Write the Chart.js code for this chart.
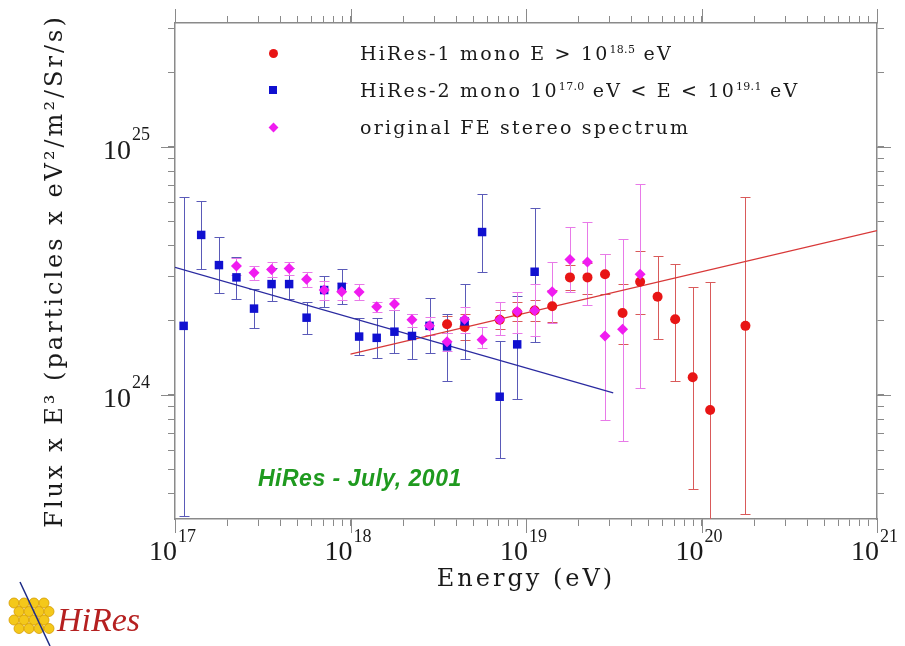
<!DOCTYPE html>
<html>
<head>
<meta charset="utf-8">
<title>HiRes spectrum - July 2001</title>
<script src="https://cdn.jsdelivr.net/npm/chart.js@4.4.1/dist/chart.umd.min.js"></script>
<style>
    html, body { margin: 0; padding: 0; background: #fff; }
    #wrap { position: relative; width: 905px; height: 646px; overflow: hidden; }
    #c { position: absolute; left: 0; top: 0; }
    .leg-text {
        position: absolute; left: 360px; height: 24px; line-height: 24px;
        font-family: 'DejaVu Serif', serif; font-size: 19px; letter-spacing: 2.2px;
        color: #1a1a1a; white-space: nowrap;
    }
    .leg-text sup { font-size: 11px; vertical-align: baseline; position: relative; top: -7px; letter-spacing: 0.3px; }
    .leg-mark { position: absolute; }
    #note {
        position: absolute; left: 258px; top: 465px; line-height: 26px;
        font-family: 'Liberation Sans', Arial, sans-serif; font-size: 23px;
        font-weight: bold; font-style: italic; letter-spacing: 0.5px;
        color: #1f9a1f; white-space: nowrap;
    }
    #logo { position: absolute; left: 0; top: 578px; }
</style>
</head>
<body>
<div id="wrap">
    <canvas id="c" width="905" height="646"></canvas>
    <div id="legend"></div>
    <div id="note">HiRes - July, 2001</div>
    <svg id="logo" width="150" height="68"></svg>
</div>
<script>
// Energy bins (eV) and flux x E^3 values
const hires1E  = [3.55e18, 4.47e18, 7.08e18, 8.91e18, 1.12e19, 1.41e19, 1.78e19, 2.24e19, 2.82e19, 3.55e19, 4.47e19, 5.62e19, 7.08e19, 8.91e19, 1.12e20, 1.78e20];
const hires1F  = [1.93e24, 1.88e24, 2.01e24, 2.15e24, 2.19e24, 2.28e24, 2.98e24, 2.98e24, 3.07e24, 2.14e24, 2.86e24, 2.49e24, 2.02e24, 1.18e24, 8.70e23, 1.90e24];
const hires1Hi = [2.08e24, 2.12e24, 2.20e24, 2.38e24, 2.42e24, 2.65e24, 3.34e24, 3.40e24, 3.70e24, 2.80e24, 3.82e24, 3.62e24, 3.37e24, 2.73e24, 2.85e24, 6.30e24];
const hires1Lo = [1.78e24, 1.67e24, 1.85e24, 1.98e24, 1.98e24, 1.97e24, 2.65e24, 2.55e24, 2.55e24, 1.61e24, 2.12e24, 1.68e24, 1.14e24, 4.18e23, 1.50e23, 3.31e23];

const hires2E  = [1.12e17, 1.41e17, 1.78e17, 2.24e17, 2.82e17, 3.55e17, 4.47e17, 5.62e17, 7.08e17, 8.91e17, 1.12e18, 1.41e18, 1.78e18, 2.24e18, 2.82e18, 3.55e18, 4.47e18, 5.62e18, 7.08e18, 8.91e18, 1.12e19];
const hires2F  = [1.90e24, 4.42e24, 3.34e24, 2.98e24, 2.23e24, 2.80e24, 2.80e24, 2.05e24, 2.65e24, 2.73e24, 1.72e24, 1.70e24, 1.80e24, 1.73e24, 1.90e24, 1.57e24, 1.98e24, 4.54e24, 9.84e23, 1.60e24, 3.14e24];
const hires2Hi = [6.27e24, 6.04e24, 4.35e24, 3.61e24, 2.67e24, 3.25e24, 3.25e24, 2.37e24, 3.02e24, 3.21e24, 2.05e24, 2.04e24, 2.20e24, 2.13e24, 2.45e24, 2.13e24, 2.79e24, 6.46e24, 1.65e24, 2.50e24, 5.66e24];
const hires2Lo = [3.25e23, 3.21e24, 2.57e24, 2.44e24, 1.86e24, 2.39e24, 2.44e24, 1.76e24, 2.27e24, 2.33e24, 1.45e24, 1.41e24, 1.48e24, 1.40e24, 1.47e24, 1.14e24, 1.40e24, 3.13e24, 5.59e23, 9.61e23, 1.64e24];

const stereoE  = [2.24e17, 2.82e17, 3.55e17, 4.47e17, 5.62e17, 7.08e17, 8.91e17, 1.12e18, 1.41e18, 1.78e18, 2.24e18, 2.82e18, 3.55e18, 4.47e18, 5.62e18, 7.08e18, 8.91e18, 1.12e19, 1.41e19, 1.78e19, 2.24e19, 2.82e19, 3.55e19, 4.47e19];
const stereoF  = [3.31e24, 3.11e24, 3.21e24, 3.24e24, 2.93e24, 2.65e24, 2.61e24, 2.60e24, 2.27e24, 2.33e24, 2.01e24, 1.90e24, 1.64e24, 2.02e24, 1.67e24, 2.01e24, 2.17e24, 2.19e24, 2.61e24, 3.52e24, 3.44e24, 1.73e24, 1.84e24, 3.07e24];
const stereoHi = [3.57e24, 3.31e24, 3.44e24, 3.44e24, 3.13e24, 2.88e24, 2.83e24, 2.80e24, 2.38e24, 2.45e24, 2.13e24, 2.07e24, 1.78e24, 2.27e24, 1.88e24, 2.38e24, 2.61e24, 2.80e24, 3.43e24, 4.77e24, 5.00e24, 3.70e24, 4.26e24, 7.09e24];
const stereoLo = [3.05e24, 2.91e24, 2.99e24, 3.05e24, 2.73e24, 2.42e24, 2.42e24, 2.42e24, 2.17e24, 2.20e24, 1.88e24, 1.75e24, 1.50e24, 1.77e24, 1.54e24, 1.75e24, 1.77e24, 1.73e24, 1.96e24, 2.61e24, 2.31e24, 7.93e23, 6.53e23, 1.07e24];

// straight fits (end points)
const hires2FitE = [1e17, 3.14e19];
const hires2FitF = [3.27e24, 1.02e24];
const hires1FitE = [1e18, 1e21];
const hires1FitF = [1.46e24, 4.60e24];

// axes
const xMin = 1e17, xMax = 1e21;
const yMin = 3.162e23, yMax = 3.162e25;
const xTickValues = [1e17, 1e18, 1e19, 1e20, 1e21];
const xTickExponents = ['17', '18', '19', '20', '21'];
const yTickValues = [1e24, 1e25];
const yTickExponents = ['24', '25'];

const hires1Label = 'HiRes-1 mono E > 10^18.5 eV';
const hires2Label = 'HiRes-2 mono 10^17.0 eV < E < 10^19.1 eV';
const stereoLabel = 'original FE stereo spectrum';

const RED = '#e81515', BLUE = '#1010d0', MAGENTA = '#f01cf0';
const AXIS = '#8a8a8a';

const zip = (xs, ys) => xs.map((x, i) => ({ x, y: ys[i] }));

function logTicks(min, max) {
    const out = [];
    for (let e = Math.floor(Math.log10(min)); e <= Math.ceil(Math.log10(max)); e++) {
        for (let m = 1; m <= 9; m++) {
            const v = m * Math.pow(10, e);
            if (v >= min * 0.999 && v <= max * 1.001) out.push({ value: v });
        }
    }
    return out;
}

function logAxis(min, max, position, fit) {
    return {
        type: 'logarithmic', position, min, max,
        afterBuildTicks: s => { s.ticks = logTicks(min, max); },
        afterFit: fit,
        ticks: { display: false, autoSkip: false },
        grid: { drawOnChartArea: false, drawTicks: true, tickLength: 7, tickColor: AXIS, tickWidth: 1 },
        border: { display: true, color: AXIS, width: 1.5 }
    };
}

// error bars under the markers, through the chart scales
const errorBars = {
    id: 'errorBars',
    beforeDatasetsDraw(chart) {
        const { ctx, chartArea, scales } = chart;
        chart.ctx.letterSpacing = '0px';
        ctx.save();
        ctx.beginPath();
        ctx.rect(chartArea.left, chartArea.top, chartArea.right - chartArea.left, chartArea.bottom - chartArea.top);
        ctx.clip();
        ctx.lineWidth = 1;
        const sets = chart.data.datasets.filter(d => d.errHi).sort((a, b) => b.order - a.order);
        sets.forEach(ds => {
            ctx.strokeStyle = ds.errColor;
            ds.data.forEach((p, i) => {
                const x = Math.round(scales.x.getPixelForValue(p.x)) + 0.5;
                const yHi = Math.round(scales.y.getPixelForValue(ds.errHi[i])) + 0.5;
                const yLo = Math.round(scales.y.getPixelForValue(ds.errLo[i])) + 0.5;
                ctx.beginPath();
                ctx.moveTo(x, yHi); ctx.lineTo(x, yLo);
                ctx.moveTo(x - 5, yHi); ctx.lineTo(x + 5, yHi);
                ctx.moveTo(x - 5, yLo); ctx.lineTo(x + 5, yLo);
                ctx.stroke();
            });
        });
        ctx.restore();
    }
};

// wider letter spacing for the axis titles
const titleSpacing = {
    id: 'titleSpacing',
    beforeDraw(chart) { chart.ctx.letterSpacing = '3px'; }
};

// "10" + raised exponent tick labels, longer decade ticks
const decadeLabels = {
    id: 'decadeLabels',
    afterDraw(chart) {
        const { ctx, chartArea: a, scales } = chart;
        ctx.save();
        ctx.letterSpacing = '0px';
        ctx.strokeStyle = AXIS;
        ctx.lineWidth = 1;
        ctx.beginPath();
        xTickValues.forEach(v => {
            const px = Math.round(scales.x.getPixelForValue(v)) + 0.5;
            ctx.moveTo(px, a.bottom); ctx.lineTo(px, a.bottom + 14);
            ctx.moveTo(px, a.top); ctx.lineTo(px, a.top - 14);
        });
        yTickValues.forEach(v => {
            const py = Math.round(scales.y.getPixelForValue(v)) + 0.5;
            ctx.moveTo(a.left, py); ctx.lineTo(a.left - 14, py);
            ctx.moveTo(a.right, py); ctx.lineTo(a.right + 14, py);
        });
        ctx.stroke();

        ctx.fillStyle = '#1a1a1a';
        ctx.textBaseline = 'alphabetic';
        xTickValues.forEach((v, i) => {
            const px = scales.x.getPixelForValue(v);
            ctx.font = '28px "Liberation Serif"';
            ctx.textAlign = 'right';
            ctx.fillText('10', px + 2, a.bottom + 41);
            ctx.font = '18px "Liberation Serif"';
            ctx.textAlign = 'left';
            ctx.fillText(xTickExponents[i], px + 3, a.bottom + 23);
        });
        yTickValues.forEach((v, i) => {
            const py = scales.y.getPixelForValue(v);
            ctx.font = '28px "Liberation Serif"';
            ctx.textAlign = 'right';
            ctx.fillText('10', a.left - 44, py + 12);
            ctx.font = '18px "Liberation Serif"';
            ctx.textAlign = 'left';
            ctx.fillText(yTickExponents[i], a.left - 43, py - 7);
        });
        ctx.restore();
    }
};

new Chart(document.getElementById('c'), {
    type: 'scatter',
    data: {
        datasets: [
            {
                label: stereoLabel, data: zip(stereoE, stereoF),
                errHi: stereoHi, errLo: stereoLo, errColor: '#e87ae8',
                backgroundColor: MAGENTA, borderColor: MAGENTA,
                pointStyle: 'rectRot', pointRadius: 5.5, pointBorderWidth: 0, order: 1
            },
            {
                label: hires2Label, data: zip(hires2E, hires2F),
                errHi: hires2Hi, errLo: hires2Lo, errColor: '#5a5ab8',
                backgroundColor: BLUE, borderColor: BLUE,
                pointStyle: 'rect', pointRadius: 6, pointBorderWidth: 0, order: 2
            },
            {
                label: hires1Label, data: zip(hires1E, hires1F),
                errHi: hires1Hi, errLo: hires1Lo, errColor: '#d95a5a',
                backgroundColor: RED, borderColor: RED,
                pointStyle: 'circle', pointRadius: 5, pointBorderWidth: 0, order: 3
            },
            {
                label: 'HiRes-2 fit', data: zip(hires2FitE, hires2FitF), showLine: true,
                borderColor: '#2a2aa0', borderWidth: 1.3, pointRadius: 0, order: 4
            },
            {
                label: 'HiRes-1 fit', data: zip(hires1FitE, hires1FitF), showLine: true,
                borderColor: '#d83838', borderWidth: 1.3, pointRadius: 0, order: 5
            }
        ]
    },
    options: {
        responsive: false,
        animation: false,
        devicePixelRatio: 1,
        events: [],
        layout: { padding: 0 },
        plugins: { legend: { display: false }, tooltip: { enabled: false } },
        scales: {
            x: Object.assign(logAxis(xMin, xMax, 'bottom', s => { s.height = 127; }), {
                title: {
                    display: true, text: 'Energy (eV)', color: '#1a1a1a',
                    font: { family: 'DejaVu Serif', size: 24 }, padding: { top: 0, bottom: 52 }
                }
            }),
            x2: logAxis(xMin, xMax, 'top', s => { s.height = 23; }),
            y: Object.assign(logAxis(yMin, yMax, 'left', s => { s.width = 175; }), {
                title: {
                    display: true, text: 'Flux x E³ (particles x eV²/m²/Sr/s)', color: '#1a1a1a',
                    font: { family: 'DejaVu Serif', size: 24 }, padding: { top: 41, bottom: 0 }
                }
            }),
            y2: logAxis(yMin, yMax, 'right', s => { s.width = 28; })
        }
    },
    plugins: [titleSpacing, errorBars, decadeLabels]
});

// legend, with real superscripts
const legendRows = [
    { html: 'HiRes-1 mono E &gt; 10<sup>18.5</sup> eV', color: RED, shape: 'circle', y: 53 },
    { html: 'HiRes-2 mono 10<sup>17.0</sup> eV &lt; E &lt; 10<sup>19.1</sup> eV', color: BLUE, shape: 'square', y: 90 },
    { html: 'original FE stereo spectrum', color: MAGENTA, shape: 'diamond', y: 127 }
];
const legend = document.getElementById('legend');
legendRows.forEach(r => {
    const m = document.createElement('div');
    m.className = 'leg-mark';
    const size = r.shape === 'square' ? 8 : r.shape === 'diamond' ? 7 : 9;
    m.style.cssText = `left:${273 - size / 2}px;top:${r.y - size / 2}px;width:${size}px;height:${size}px;background:${r.color};` +
        (r.shape === 'circle' ? 'border-radius:50%;' : '') +
        (r.shape === 'diamond' ? 'transform:rotate(45deg);' : '');
    legend.appendChild(m);
    const t = document.createElement('div');
    t.className = 'leg-text';
    t.style.top = (r.y - 12) + 'px';
    t.innerHTML = r.html;
    legend.appendChild(t);
});

// small HiRes logo in the corner
const svg = document.getElementById('logo');
let parts = '';
for (let r = 0; r < 4; r++) {
    for (let c = 0; c < 4; c++) {
        const cx = 14 + c * 10 + (r % 2 ? 5 : 0);
        const cy = 25 + r * 8.5;
        parts += `<circle cx="${cx}" cy="${cy}" r="5" fill="#f4c81a" stroke="#d49a00" stroke-width="0.8"/>`;
    }
}
parts += '<line x1="20" y1="4" x2="50" y2="68" stroke="#1c2a86" stroke-width="1.5"/>';
parts += '<text x="57" y="53" font-family="Liberation Serif" font-style="italic" font-size="34" fill="#b52020">HiRes</text>';
svg.innerHTML = parts;
</script>
</body>
</html>
